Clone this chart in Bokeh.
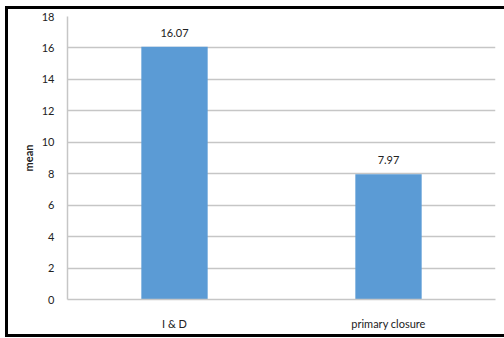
from bokeh.plotting import figure
from bokeh.models import ColumnDataSource, LabelSet, Range1d, SingleIntervalTicker
from bokeh.core.properties import value
from bokeh.embed import file_html
from bokeh.resources import INLINE

# Mean values per treatment group
categories = ["I & D", "primary closure"]
means = [16.07, 7.97]
mean_labels = ["16.07", "7.97"]

FONT = "Lato"
GRID = "#c6c6c6"
TEXT = "#222222"

source = ColumnDataSource(dict(cat=categories, mean=means, label=mean_labels))

p = figure(
    x_range=categories,
    y_range=Range1d(0, 18),
    width=499,
    height=331,
    output_backend="svg",
    toolbar_location=None,
    min_border_left=59,
    min_border_right=12,
    min_border_top=7,
    min_border_bottom=41,
)

# Black frame drawn around the whole chart area (left, top, bottom)
p.styles = {
    "border-left": "3px solid black",
    "border-top": "3px solid black",
    "border-bottom": "3px solid black",
    "margin-left": "5px",
    "margin-top": "6px",
}

p.outline_line_color = None
p.background_fill_color = "white"
p.border_fill_color = "white"

p.vbar(x="cat", top="mean", width=0.31, source=source,
       fill_color="#5b9bd5", line_color=None)

labels = LabelSet(x="cat", y="mean", text="label", source=source,
                  text_align="center", text_baseline="middle", y_offset=14,
                  text_font=value(FONT), text_font_size=value("11px"),
                  text_color=TEXT)
p.add_layout(labels)

# y axis
p.yaxis.ticker = SingleIntervalTicker(interval=2)
p.yaxis.axis_line_color = GRID
p.yaxis.axis_line_width = 1.5
p.yaxis.major_tick_line_color = None
p.yaxis.minor_tick_line_color = None
p.yaxis.major_label_standoff = 7
p.yaxis.major_label_text_font = FONT
p.yaxis.major_label_text_font_size = "11px"
p.yaxis.major_label_text_color = TEXT
p.yaxis.axis_label = "mean"
p.yaxis.axis_label_text_font = FONT
p.yaxis.axis_label_text_font_size = "11px"
p.yaxis.axis_label_text_font_style = "bold"
p.yaxis.axis_label_text_color = TEXT
p.yaxis.axis_label_standoff = 4

# x axis
p.xaxis.axis_line_color = GRID
p.xaxis.axis_line_width = 1.5
p.xaxis.major_tick_line_color = None
p.xaxis.minor_tick_line_color = None
p.xaxis.major_label_standoff = 11
p.xaxis.major_label_text_font = FONT
p.xaxis.major_label_text_font_size = "11px"
p.xaxis.major_label_text_color = TEXT

# grid
p.xgrid.grid_line_color = None
p.ygrid.grid_line_color = GRID
p.ygrid.grid_line_width = 1.5

with open("out.html", "w") as f:
    f.write(file_html(p, INLINE))
